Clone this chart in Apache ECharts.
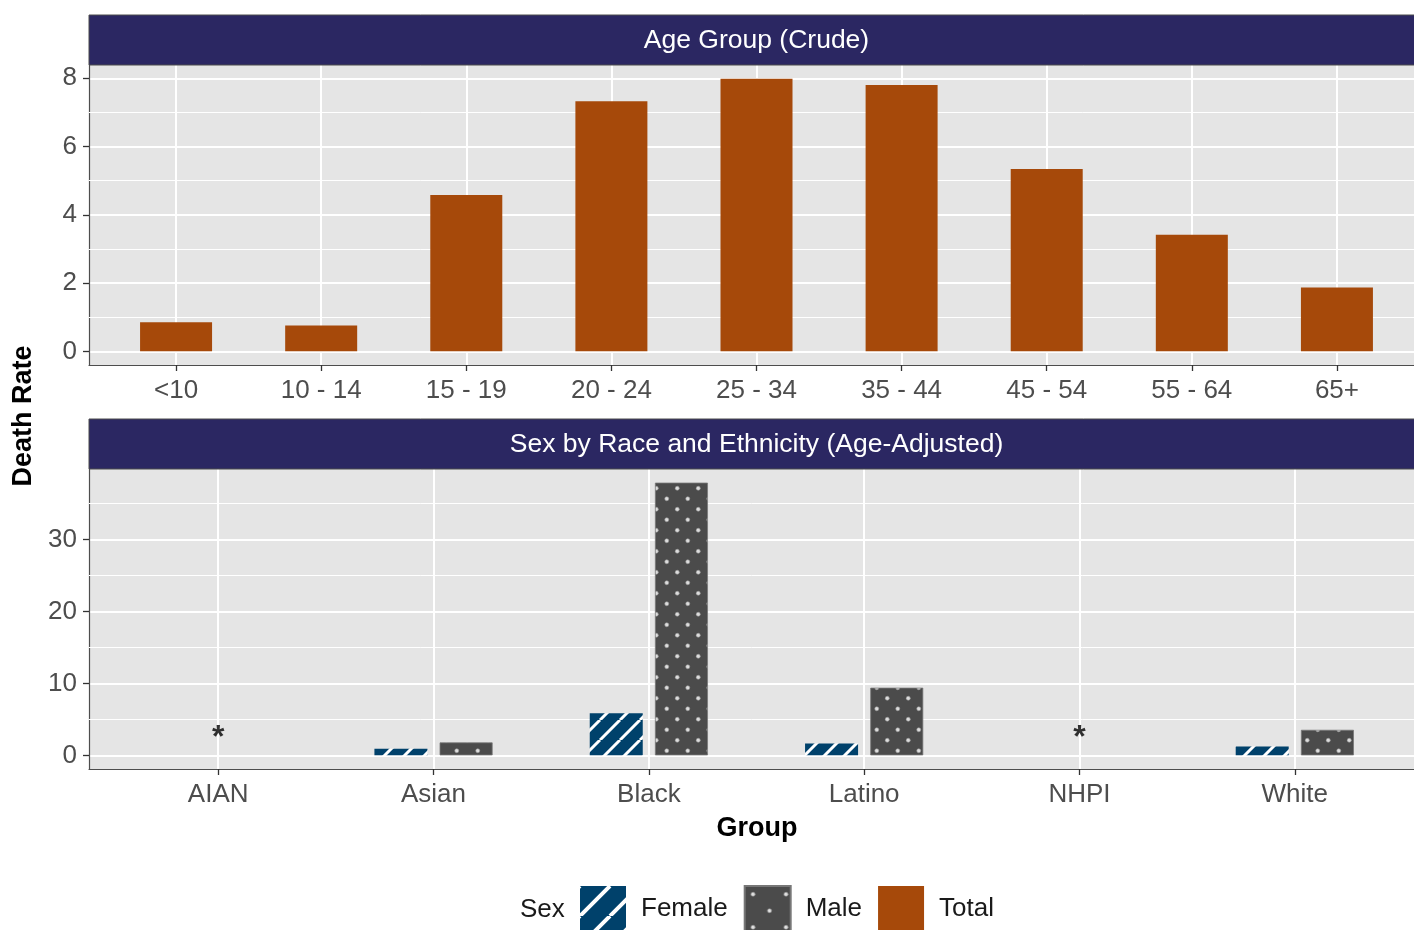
<!DOCTYPE html>
<html>
<head>
<meta charset="utf-8">
<script src="https://cdn.jsdelivr.net/npm/echarts@6/dist/echarts.min.js"></script>
<style>
  html, body { margin: 0; padding: 0; background: #fff; }
  #chart { width: 1414px; height: 930px; }
</style>
</head>
<body>
<div id="chart"></div>
<script>
// 数据
const ageGroups = ['<10', '10 - 14', '15 - 19', '20 - 24', '25 - 34', '35 - 44', '45 - 54', '55 - 64', '65+']
const totalRates = [0.85, 0.76, 4.58, 7.33, 7.99, 7.8, 5.34, 3.42, 1.87]

const raceGroups = ['AIAN', 'Asian', 'Black', 'Latino', 'NHPI', 'White']
const femaleRates = [null, 0.93, 5.85, 1.66, null, 1.24]
const maleRates = [null, 1.8, 37.88, 9.4, null, 3.55]
const suppressedGroups = ['AIAN', 'NHPI']
const suppressedLabelY = 2.4

const topTicks = [0, 2, 4, 6, 8]
const topMinor = [1, 3, 5, 7]
const bottomTicks = [0, 10, 20, 30]
const bottomMinor = [5, 15, 25, 35]

const FONT = '"Liberation Sans", Arial, Helvetica, sans-serif'
const AXIS_COLOR = '#4D4D4D'
const PANEL_BG = '#E5E5E5'
const STRIP_BG = '#2B2762'

// 面板在右侧被裁掉一部分：可见宽度 / 完整宽度
const PANEL_LEFT = 89
const PANEL_FULL_RIGHT = 1424
const VISIBLE_FRAC = (1414 - PANEL_LEFT) / (PANEL_FULL_RIGHT - PANEL_LEFT)

// 图案填充
function stripeTile(size, lw, bg, fg) {
  const c = document.createElement('canvas')
  c.width = c.height = size
  const g = c.getContext('2d')
  g.fillStyle = bg
  g.fillRect(0, 0, size, size)
  g.strokeStyle = fg
  g.lineWidth = lw
  g.beginPath()
  for (const k of [-1, 0, 1]) {
    g.moveTo(k * size, size)
    g.lineTo(k * size + size, 0)
  }
  g.stroke()
  return c
}

function dotTile(size, r, bg, fg) {
  const c = document.createElement('canvas')
  c.width = c.height = size
  const g = c.getContext('2d')
  g.fillStyle = bg
  g.fillRect(0, 0, size, size)
  g.fillStyle = fg
  g.strokeStyle = '#9a9a9a'
  g.lineWidth = 0.6
  for (const p of [[size / 4, size / 4], [size * 3 / 4, size * 3 / 4]]) {
    g.beginPath()
    g.arc(p[0], p[1], r, 0, Math.PI * 2)
    g.fill()
    g.stroke()
  }
  return c
}

const stripeFill = { image: stripeTile(20, 3, '#00416B', '#ffffff'), repeat: 'repeat' }
const dotFill = { image: dotTile(21, 2, '#4B4B4B', '#dcdcdc'), repeat: 'repeat' }
const stripeLegend = { image: stripeTile(30, 4, '#00416B', '#ffffff'), repeat: 'repeat' }
const dotLegend = { image: dotTile(33, 2, '#4B4B4B', '#e0e0e0'), repeat: 'repeat' }

// 范围（ggplot 5% 扩展）
const topMax = Math.max(...totalRates)
const bottomMax = Math.max(...maleRates.filter(v => v != null), ...femaleRates.filter(v => v != null))

function idx(arr) { return arr.map((_, i) => i) }

function xAxisFor(gridIndex, cats, extra) {
  return Object.assign({
    type: 'value',
    gridIndex: gridIndex,
    min: -0.6,
    max: -0.6 + (cats.length + 0.2) * VISIBLE_FRAC,
    axisLine: { show: true, onZero: false, lineStyle: { color: AXIS_COLOR, width: 1.2 } },
    axisTick: { show: true, customValues: idx(cats), length: 6, lineStyle: { color: '#333', width: 1.3 } },
    axisLabel: {
      customValues: idx(cats),
      formatter: v => cats[Math.round(v)],
      margin: 13,
      fontSize: 26,
      fontFamily: FONT,
      color: AXIS_COLOR
    },
    splitLine: { show: true, lineStyle: { color: '#fff', width: 2 } }
  }, extra || {})
}

function yAxisFor(gridIndex, maxVal, ticks) {
  return {
    type: 'value',
    gridIndex: gridIndex,
    min: -0.05 * maxVal,
    max: 1.05 * maxVal,
    axisLine: { show: true, onZero: false, lineStyle: { color: AXIS_COLOR, width: 1.2 } },
    axisTick: { show: true, customValues: ticks, length: 6, lineStyle: { color: '#333', width: 1.3 } },
    axisLabel: {
      customValues: ticks,
      margin: 12,
      fontSize: 26,
      fontFamily: FONT,
      color: AXIS_COLOR
    },
    splitLine: { show: true, lineStyle: { color: '#fff', width: 2 } }
  }
}

function minorLines(values) {
  return {
    silent: true,
    symbol: 'none',
    z: 1,
    animation: false,
    label: { show: false },
    emphasis: { disabled: true },
    lineStyle: { color: '#fff', width: 1, type: 'solid' },
    data: values.map(v => ({ yAxis: v }))
  }
}

function pairs(values) {
  return values.map((v, i) => [i, v]).filter(d => d[1] != null)
}

const chart = echarts.init(document.getElementById('chart'))

const option = {
  backgroundColor: '#fff',
  animation: false,
  textStyle: { fontFamily: FONT },
  grid: [
    { left: PANEL_LEFT, top: 65, right: 0, height: 300, show: true, backgroundColor: PANEL_BG, borderWidth: 0 },
    { left: PANEL_LEFT, top: 469, right: 0, height: 300, show: true, backgroundColor: PANEL_BG, borderWidth: 0 }
  ],
  xAxis: [
    xAxisFor(0, ageGroups),
    xAxisFor(1, raceGroups, {
      name: 'Group',
      nameLocation: 'middle',
      nameGap: 46,
      nameTextStyle: { fontSize: 27, fontWeight: 'bold', color: '#000', fontFamily: FONT, padding: [0, 0, 0, 11] }
    })
  ],
  yAxis: [
    yAxisFor(0, topMax, topTicks),
    yAxisFor(1, bottomMax, bottomTicks)
  ],
  legend: {
    left: 580,
    top: 885,
    padding: 0,
    itemWidth: 46,
    itemHeight: 46,
    itemGap: 16,
    icon: 'rect',
    selectedMode: false,
    textStyle: { fontSize: 26, color: '#1a1a1a', fontFamily: FONT, padding: [4, 0, 0, 10] },
    data: [
      { name: 'Female', itemStyle: { color: stripeLegend } },
      { name: 'Male', itemStyle: { color: dotLegend } },
      { name: 'Total', itemStyle: { color: '#A6490A' } }
    ]
  },
  graphic: [
    {
      type: 'rect', z: 10,
      shape: { x: PANEL_LEFT, y: 15, width: PANEL_FULL_RIGHT - PANEL_LEFT, height: 50 },
      style: { fill: STRIP_BG, stroke: AXIS_COLOR, lineWidth: 1 }
    },
    {
      type: 'text', z: 11, x: 756.5, y: 41,
      style: {
        text: 'Age Group (Crude)', fill: '#fff', fontSize: 26.5, fontFamily: FONT,
        align: 'center', verticalAlign: 'middle', textAlign: 'center', textVerticalAlign: 'middle'
      }
    },
    {
      type: 'rect', z: 10,
      shape: { x: PANEL_LEFT, y: 419, width: PANEL_FULL_RIGHT - PANEL_LEFT, height: 50 },
      style: { fill: STRIP_BG, stroke: AXIS_COLOR, lineWidth: 1 }
    },
    {
      type: 'text', z: 11, x: 756.5, y: 445,
      style: {
        text: 'Sex by Race and Ethnicity (Age-Adjusted)', fill: '#fff', fontSize: 26.5, fontFamily: FONT,
        align: 'center', verticalAlign: 'middle', textAlign: 'center', textVerticalAlign: 'middle'
      }
    },
    {
      type: 'text', z: 11, x: 24, y: 416, rotation: Math.PI / 2,
      style: {
        text: 'Death Rate', fill: '#000', fontSize: 27, fontWeight: 'bold', fontFamily: FONT,
        align: 'center', verticalAlign: 'middle', textAlign: 'center', textVerticalAlign: 'middle'
      }
    },
    {
      type: 'text', z: 11, x: 520, y: 910,
      style: {
        text: 'Sex', fill: '#1a1a1a', fontSize: 26, fontFamily: FONT,
        align: 'left', verticalAlign: 'middle', textAlign: 'left', textVerticalAlign: 'middle'
      }
    }
  ],
  series: [
    {
      name: 'Total',
      type: 'bar',
      xAxisIndex: 0,
      yAxisIndex: 0,
      z: 3,
      barWidth: 72,
      itemStyle: { color: '#A6490A' },
      emphasis: { disabled: true },
      data: pairs(totalRates),
      markLine: minorLines(topMinor)
    },
    {
      name: 'Female',
      type: 'bar',
      xAxisIndex: 1,
      yAxisIndex: 1,
      z: 3,
      barWidth: 53,
      barGap: '23%',
      itemStyle: { color: stripeFill },
      emphasis: { disabled: true },
      data: pairs(femaleRates),
      markLine: minorLines(bottomMinor)
    },
    {
      name: 'Male',
      type: 'bar',
      xAxisIndex: 1,
      yAxisIndex: 1,
      z: 3,
      barWidth: 53,
      barGap: '23%',
      itemStyle: { color: dotFill, borderColor: '#777', borderWidth: 0.8 },
      emphasis: { disabled: true },
      data: pairs(maleRates)
    },
    {
      name: 'suppressed',
      type: 'scatter',
      xAxisIndex: 1,
      yAxisIndex: 1,
      z: 4,
      symbolSize: 0,
      silent: true,
      label: {
        show: true,
        position: 'inside',
        formatter: '*',
        fontSize: 32,
        fontWeight: 'bold',
        color: '#000',
        fontFamily: FONT
      },
      data: suppressedGroups.map(g => [raceGroups.indexOf(g), suppressedLabelY])
    }
  ]
}

chart.setOption(option)
</script>
</body>
</html>
